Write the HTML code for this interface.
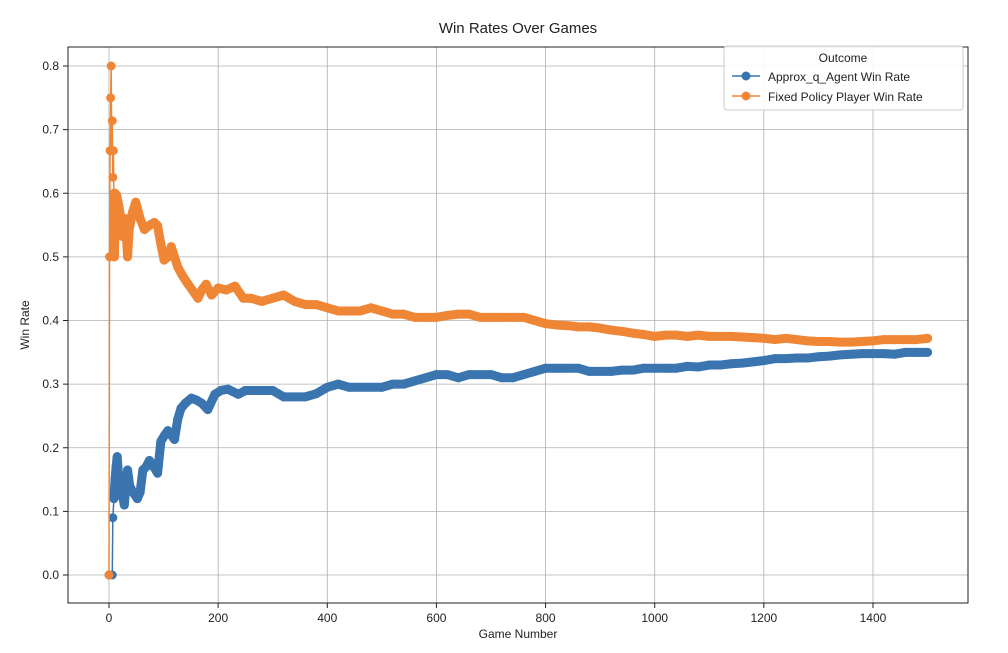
<!DOCTYPE html>
<html><head><meta charset="utf-8"><style>
body{margin:0;background:#fff;}
svg text{font-family:"Liberation Sans","DejaVu Sans",sans-serif;fill:#222;}
</style></head><body>
<svg id="chart" width="1008" height="648" xmlns="http://www.w3.org/2000/svg">
<rect width="1008" height="648" fill="#fff"/>
<text x="518" y="33" font-size="15" text-anchor="middle">Win Rates Over Games</text>
<g id="grid"></g>
<g id="series"></g>
<rect x="68" y="47" width="900" height="556" fill="none" stroke="#222" stroke-width="1"/>
<g id="ticks"></g>
<text x="518" y="638" font-size="12" text-anchor="middle">Game Number</text>
<text transform="translate(29,325) rotate(-90)" font-size="12" text-anchor="middle">Win Rate</text>
<g>
<rect x="724" y="46" width="239" height="64" rx="3" fill="#fff" fill-opacity="0.9" stroke="#ccc"/>
<text x="843" y="62" font-size="12" text-anchor="middle">Outcome</text>
<g>
<line x1="732" y1="76" x2="760" y2="76" stroke="#3a75b0" stroke-width="1.5"/><circle cx="746" cy="76" r="4.5" fill="#3a75b0"/>
<text x="768" y="81" font-size="12">Approx_q_Agent Win Rate</text></g>
<g>
<line x1="732" y1="96" x2="760" y2="96" stroke="#ef8636" stroke-width="1.5"/><circle cx="746" cy="96" r="4.5" fill="#ef8636"/>
<text x="768" y="101" font-size="12">Fixed Policy Player Win Rate</text></g>
</g>
</svg>
<script>
const xTicks=[0,200,400,600,800,1000,1200,1400];
const yTicks=[0.0,0.1,0.2,0.3,0.4,0.5,0.6,0.7,0.8];
const agentGames=[0,6,7,9,11,13,15,18,22,26,28,31,34,38,44,52,57,62,68,74,82,89,95,102,108,114,120,126,132,140,151,160,170,181,194,205,218,237,250,260,280,300,320,340,360,380,400,420,440,460,480,500,520,540,560,580,600,620,640,660,680,700,720,740,760,780,800,820,840,860,880,900,920,940,960,980,1000,1020,1040,1060,1080,1100,1120,1140,1160,1180,1200,1220,1240,1260,1280,1300,1320,1340,1360,1380,1400,1420,1440,1460,1480,1500];
const agentRates=[0,0,0.09,0.12,0.15,0.17,0.186,0.15,0.13,0.12,0.11,0.14,0.165,0.14,0.13,0.12,0.13,0.165,0.17,0.18,0.17,0.16,0.21,0.22,0.227,0.22,0.213,0.245,0.262,0.27,0.278,0.275,0.27,0.26,0.284,0.29,0.292,0.284,0.29,0.29,0.29,0.29,0.28,0.28,0.28,0.285,0.295,0.3,0.295,0.295,0.295,0.295,0.3,0.3,0.305,0.31,0.315,0.315,0.31,0.315,0.315,0.315,0.31,0.31,0.315,0.32,0.325,0.325,0.325,0.325,0.32,0.32,0.32,0.322,0.322,0.325,0.325,0.325,0.325,0.328,0.327,0.33,0.33,0.332,0.333,0.335,0.337,0.34,0.34,0.341,0.341,0.343,0.344,0.346,0.347,0.348,0.348,0.348,0.347,0.35,0.35,0.35];
const fixedGames=[0,1,2,3,4,5,6,7,8,9,10,11,14,18,22,25,30,34,37,43,49,57,65,75,83,89,95,101,108,114,120,126,135,145,155,163,170,178,188,200,215,231,246,260,280,300,320,340,360,380,400,420,440,460,480,500,520,540,560,580,600,620,640,660,680,700,720,740,760,780,800,820,840,860,880,900,920,940,960,980,1000,1020,1040,1060,1080,1100,1120,1140,1160,1180,1200,1220,1240,1260,1280,1300,1320,1340,1360,1380,1400,1420,1440,1460,1480,1500];
const fixedRates=[0,0.5,0.667,0.75,0.8,0.667,0.714,0.625,0.667,0.6,0.5,0.6,0.597,0.58,0.56,0.532,0.56,0.5,0.543,0.57,0.586,0.56,0.543,0.55,0.554,0.549,0.52,0.495,0.5,0.516,0.5,0.484,0.47,0.457,0.445,0.435,0.448,0.457,0.44,0.451,0.448,0.454,0.435,0.435,0.43,0.435,0.44,0.43,0.425,0.425,0.42,0.415,0.415,0.415,0.42,0.415,0.41,0.41,0.405,0.405,0.405,0.408,0.41,0.41,0.405,0.405,0.405,0.405,0.405,0.4,0.395,0.393,0.392,0.39,0.39,0.388,0.385,0.383,0.38,0.378,0.375,0.377,0.377,0.375,0.377,0.375,0.375,0.375,0.374,0.373,0.372,0.37,0.372,0.37,0.368,0.367,0.367,0.366,0.366,0.367,0.368,0.37,0.37,0.37,0.37,0.372];
const NS="http://www.w3.org/2000/svg";
const xs=v=>109+v*0.5457, ys=v=>575-v*636.25;
function mk(t,a,p){const e=document.createElementNS(NS,t);for(const k in a)e.setAttribute(k,a[k]);p.appendChild(e);return e;}
const grid=document.getElementById('grid'),ticks=document.getElementById('ticks'),ser=document.getElementById('series');
xTicks.forEach(t=>{const x=xs(t);
 const g=mk('line',{x1:x,x2:x,y1:47,y2:603,stroke:'#b0b0b0','stroke-width':0.8},grid);
 
 
 mk('line',{x1:x,x2:x,y1:603,y2:608,stroke:'#222'},ticks);
 const l=mk('text',{x:x,y:622,'font-size':12,'text-anchor':'middle'},ticks);l.textContent=t;
 
 });
yTicks.forEach(t=>{const y=ys(t);
 const g=mk('line',{x1:68,x2:968,y1:y,y2:y,stroke:'#b0b0b0','stroke-width':0.8},grid);
 
 
 mk('line',{x1:63,x2:68,y1:y,y2:y,stroke:'#222'},ticks);
 const l=mk('text',{x:59,y:y+4,'font-size':12,'text-anchor':'end'},ticks);l.textContent=t.toFixed(1);
 
 });
function draw(games,rates,color,name){
 const g=mk('g',{},ser);
 
 
 const pts=games.map((d,i)=>xs(d)+','+ys(rates[i])).join(' ');
 mk('polyline',{points:pts,fill:'none',stroke:color,'stroke-width':1.5},g);
 const band=games.map((d,i)=>[d,rates[i]]).filter(p=>p[0]>=9);
 mk('polyline',{points:band.map(p=>xs(p[0])+','+ys(p[1])).join(' '),fill:'none',stroke:color,'stroke-width':9,'stroke-linejoin':'round','stroke-linecap':'round'},g);
 games.forEach((d,i)=>{const c=mk('circle',{cx:xs(d),cy:ys(rates[i]),r:4.5,fill:color},g);
  
  });
}
draw(agentGames,agentRates,'#3a75b0','agent-series');
draw(fixedGames,fixedRates,'#ef8636','fixed-policy-series');
</script>
</body></html>
